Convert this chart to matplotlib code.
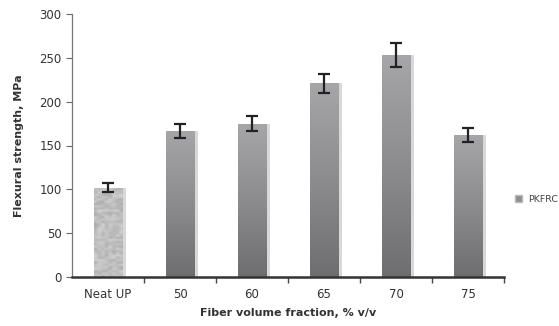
import numpy as np
import matplotlib
matplotlib.use("Agg")
import matplotlib.pyplot as plt
from matplotlib.colors import LinearSegmentedColormap
from matplotlib.patches import Patch

categories = ["Neat UP", "50", "60", "65", "70", "75"]
values = [102, 167, 175, 221, 253, 162]
errors = [5, 8, 9, 11, 14, 8.5]
series_name = "PKFRC"

fig = plt.figure(figsize=(5.59, 3.26), dpi=100)
ax = fig.add_axes([72/559, 49/326, 432/559, 263/326])

x = np.arange(len(categories))
width = 0.39
bars = ax.bar(x, values, width=width, color="#8e8e90", edgecolor="none", zorder=2, label=series_name)

# gradient fill for bars (lighter on top, darker at bottom)
cmap = LinearSegmentedColormap.from_list("g", ["#6e6e70", "#8c8c8e", "#a6a6a8"])
grad = np.linspace(0, 1, 256).reshape(-1, 1)
rng = np.random.default_rng(1)
for i, b in enumerate(bars):
    x0, y0 = b.get_x(), b.get_y()
    w, h = b.get_width(), b.get_height()
    if i == 0:
        tex = 0.68 + 0.14 * rng.random((40, 8))
        img = ax.imshow(tex, cmap="gray", vmin=0, vmax=1, extent=[x0, x0 + w, y0, y0 + h],
                        aspect="auto", origin="lower", zorder=2.1, interpolation="bilinear")
    else:
        img = ax.imshow(grad, cmap=cmap, extent=[x0, x0 + w, y0, y0 + h],
                        aspect="auto", origin="lower", zorder=2.1)
    img.set_clip_path(b)
    # light shadow on the right
    ax.bar(x0 + w + 0.02, h, width=0.04, bottom=y0, align="edge", color="#d8d8d8",
           edgecolor="none", zorder=1.5)

ax.errorbar(x, values, yerr=errors, fmt="none", ecolor="#222222", elinewidth=1.6,
            capsize=4, capthick=1.6, zorder=3)

ax.set_xlim(-0.5, len(categories) - 0.5)
ax.set_ylim(0, 300)
ax.set_yticks([0, 50, 100, 150, 200, 250, 300])
ax.set_xticks(x)
ax.set_xticklabels(categories)
ax.set_xticks(np.arange(len(categories)) + 0.5, minor=True)
ax.tick_params(axis="x", which="major", length=0, pad=8, labelsize=8.5, labelcolor="#333333")
ax.tick_params(axis="x", which="minor", length=4, width=1, color="#444444", direction="out")
ax.tick_params(axis="y", length=4, width=0.8, color="#666666", labelsize=8.5, labelcolor="#333333")

for s in ["top", "right"]:
    ax.spines[s].set_visible(False)
ax.spines["left"].set_color("#777777")
ax.spines["left"].set_linewidth(0.9)
ax.spines["bottom"].set_color("#333333")
ax.spines["bottom"].set_linewidth(1.8)

ax.set_ylabel("Flexural strength, MPa", fontsize=8, fontweight="bold", color="#333333", labelpad=11)
ax.set_xlabel("Fiber volume fraction, % v/v", fontsize=8, fontweight="bold", color="#333333", labelpad=5)

leg = fig.legend(handles=[Patch(facecolor="#8e8e90", edgecolor="#bbbbbb", label=series_name)],
                 loc="center left", bbox_to_anchor=(506/559, 127/326), frameon=False,
                 fontsize=6.8, handlelength=0.8, handleheight=0.8, handletextpad=0.6)
for t in leg.get_texts():
    t.set_color("#444444")

fig.savefig("out.png", dpi=100)
